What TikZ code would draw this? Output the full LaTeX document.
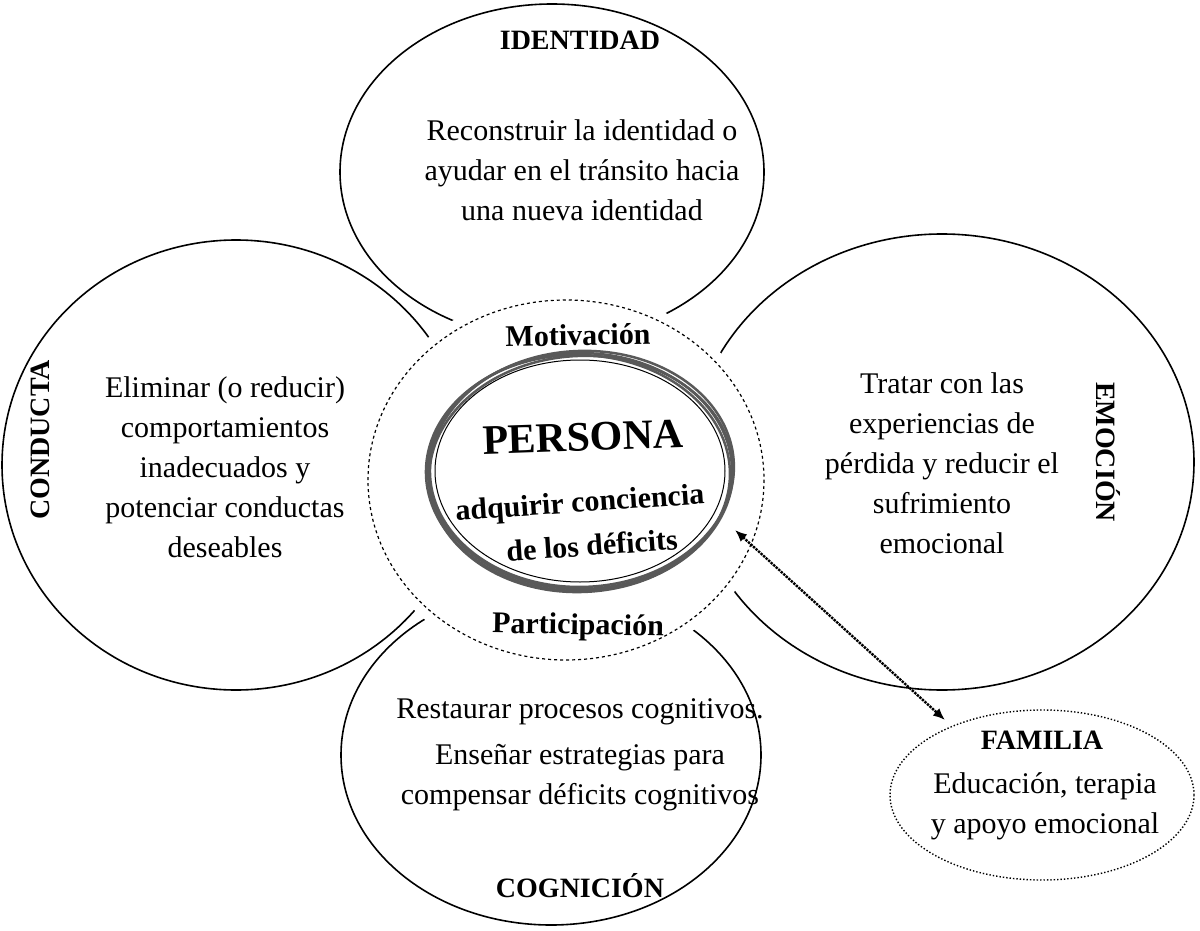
\documentclass[tikz,border=0pt]{standalone}
\usepackage{fontspec}
\setmainfont{Liberation Serif}
\usetikzlibrary{arrows.meta}
\begin{document}
\begin{tikzpicture}[x=1pt,y=-1pt,
  circ/.style={draw,line width=1.6pt},
  body/.style={align=center,font=\fontsize{30}{40}\selectfont},
  head/.style={font=\bfseries\fontsize{28}{32}\selectfont},
  inner/.style={font=\bfseries\fontsize{30}{34}\selectfont}]
\useasboundingbox (0,0) rectangle (1200,931);
\draw[circ] (552,172) ellipse [x radius=212,y radius=168];
\draw[circ] (236,465) ellipse [x radius=234,y radius=225];
\draw[circ] (942,462) ellipse [x radius=252,y radius=228];
\draw[circ] (551,755) ellipse [x radius=210,y radius=170];
\fill[white] (566,480) ellipse [x radius=208,y radius=190];
\draw[dashed,line width=1.2pt] (566,480) ellipse [x radius=198,y radius=180];
\foreach \dx/\dy/\r in {0/0/0,2/-2/2,-2/2/-1,1/3/3}
  \draw[gray!70!black,line width=2.5pt,rotate around={\r:(580,471)}] (580+\dx,471+\dy) ellipse [x radius=152,y radius=118];
\draw[black,line width=1pt] (580,471) ellipse [x radius=145,y radius=111];
\draw[dotted,line width=1.4pt] (1042,795) ellipse [x radius=152,y radius=85];

\node[head] (id) at (580,40) {IDENTIDAD};
\node[body] (idt) at (582,170) {Reconstruir la identidad o\\ayudar en el tránsito hacia\\una nueva identidad};
\node[head,rotate=90] (co) at (40,440) {CONDUCTA};
\node[body] (cot) at (225,467) {Eliminar (o reducir)\\comportamientos\\inadecuados y\\potenciar conductas\\deseables};
\node[head,rotate=-90] (em) at (1108,452) {EMOCIÓN};
\node[body] (emt) at (942,463) {Tratar con las\\experiencias de\\pérdida y reducir el\\sufrimiento\\emocional};
\node[body] (cgt) at (580,755) {Restaurar procesos cognitivos.\\[6pt]Enseñar estrategias para\\compensar déficits cognitivos};
\node[head] (cg) at (580,886) {COGNICIÓN};
\node[head] (fa) at (1042,740) {FAMILIA};
\node[body] (fat) at (1045,806) {Educación, terapia\\y apoyo emocional};
\node[inner,rotate=1] (mo) at (578,335) {Motivación};
\node[inner,rotate=-1] (pa) at (578,627) {Participación};
\node[font=\bfseries\fontsize{42}{46}\selectfont,rotate=2] (pe) at (583,437) {PERSONA};
\node[inner,rotate=4,inner sep=1pt] (aq) at (580,505) {adquirir conciencia};
\node[inner,rotate=4,inner sep=1pt] (de) at (592,545) {de los déficits};
\coordinate (a1) at (735,530);
\draw[densely dotted,line width=2.4pt,{Latex[length=12pt,width=10pt]}-{Latex[length=12pt,width=10pt]}] (a1) -- (945,720);
\end{tikzpicture}
\end{document}
